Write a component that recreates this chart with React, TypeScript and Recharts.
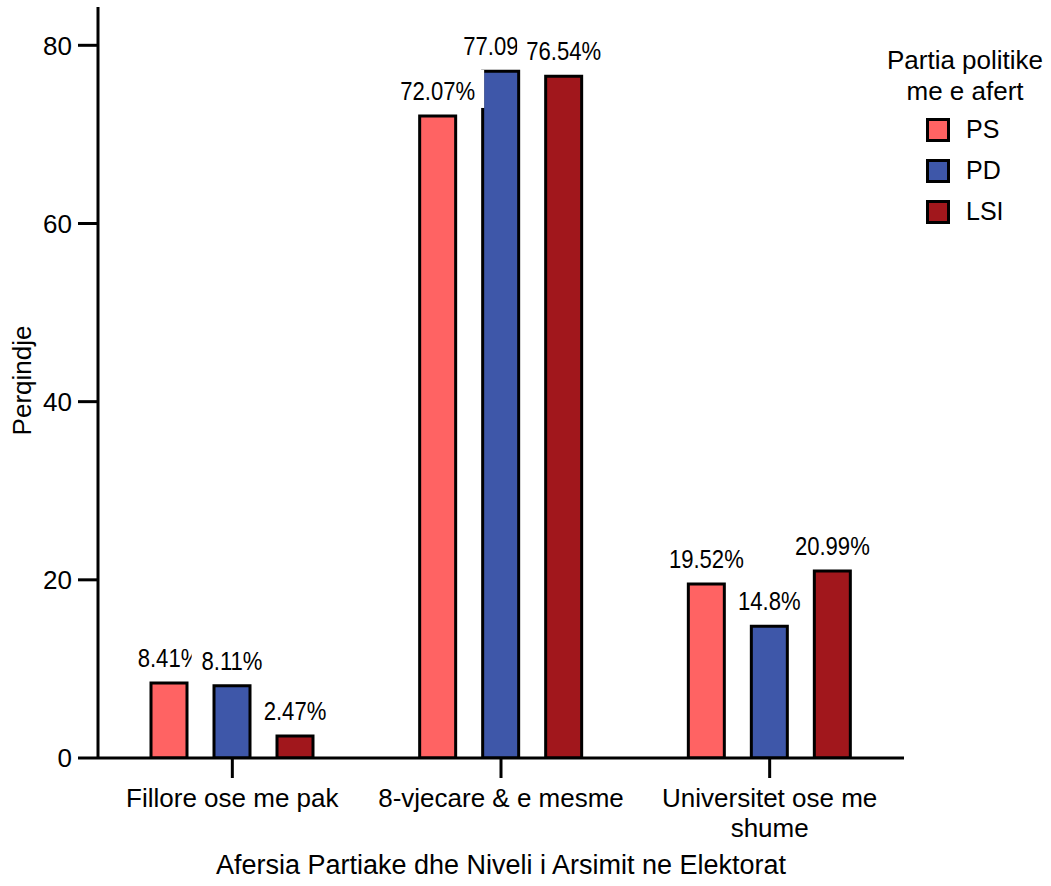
import React from 'react';
import { BarChart, Bar, XAxis, YAxis, LabelList, Legend, Label } from 'recharts';

const categories = ['Fillore ose me pak', '8-vjecare & e mesme', 'Universitet ose me shume'];
const psValues = [8.41, 72.07, 19.52];
const pdValues = [8.11, 77.09, 14.8];
const lsiValues = [2.47, 76.54, 20.99];
const yTicks = [0, 20, 40, 60, 80];
const seriesNames = ['PS', 'PD', 'LSI'];
const seriesColors = ['#FF6363', '#3E57A9', '#A1171C'];
const legendTitle = ['Partia politike', 'me e afert'];
const xTitle = 'Afersia Partiake dhe Niveli i Arsimit ne Elektorat';
const yTitle = 'Perqindje';

const data = categories.map((c, i) => ({ category: c, PS: psValues[i], PD: pdValues[i], LSI: lsiValues[i] }));

const FONT = '"Liberation Sans", Arial, Helvetica, sans-serif';

const charW = (ch: string) => {
  if (ch === '.') return 0.278;
  if (ch === '%') return 0.889;
  return 0.556;
};

const wrapWords = (s: string, maxChars: number) => {
  const words = s.split(' ');
  const lines: string[] = [];
  let cur = '';
  words.forEach((w) => {
    const next = cur ? `${cur} ${w}` : w;
    if (next.length > maxChars && cur) {
      lines.push(cur);
      cur = w;
    } else {
      cur = next;
    }
  });
  if (cur) lines.push(cur);
  return lines;
};

const BarValueLabel = (props: any) => {
  const { x, y, width, value } = props;
  const cx = Number(x) + Number(width) / 2;
  const baseline = Number(y) - 16;
  const text = `${value}%`;
  const fs = 26;
  const sx = 0.85;
  const w = text.split('').reduce((s, c) => s + charW(c), 0) * fs * sx;
  return (
    <g>
      <rect x={cx - w / 2 - 9} y={baseline - 30} width={w + 18} height={38} fill="#ffffff" />
      <text
        x={0}
        y={0}
        transform={`translate(${cx} ${baseline}) scale(${sx} 1)`}
        textAnchor="middle"
        fontSize={fs}
        fontFamily={FONT}
        fill="#000"
      >
        {text}
      </text>
    </g>
  );
};

const CategoryTick = (props: any) => {
  const { x, y, payload } = props;
  const lines = wrapWords(String(payload.value), 20);
  return (
    <text x={x} y={Number(y) + 19} textAnchor="middle" fontSize={26} fontFamily={FONT} fill="#000">
      {lines.map((l, i) => (
        <tspan key={i} x={x} dy={i === 0 ? 0 : 30}>
          {l}
        </tspan>
      ))}
    </text>
  );
};

const LegendContent = () => (
  <div style={{ fontFamily: FONT, color: '#000', width: 210 }}>
    <div style={{ textAlign: 'center', fontSize: 26, lineHeight: '31px' }}>
      {legendTitle.map((t) => (
        <div key={t}>{t}</div>
      ))}
    </div>
    <div style={{ height: 2 }} />
    {seriesNames.map((n, i) => (
      <div key={n} style={{ display: 'flex', alignItems: 'center', height: 41, marginLeft: 66 }}>
        <span
          style={{
            display: 'inline-block',
            width: 18,
            height: 18,
            border: '3px solid #000',
            background: seriesColors[i],
          }}
        />
        <span style={{ marginLeft: 16, fontSize: 25 }}>{n}</span>
      </div>
    ))}
  </div>
);

export default function App() {
  return (
    <div style={{ position: 'absolute', left: 0, top: 0, background: '#fff' }}>
      <BarChart
        width={1051}
        height={886}
        data={data}
        margin={{ top: 7, right: 147, bottom: 0, left: 0 }}
        barGap={27}
      >
        <XAxis
          dataKey="category"
          height={128}
          tickSize={20}
          tickMargin={10}
          axisLine={{ stroke: '#000', strokeWidth: 3 }}
          tickLine={{ stroke: '#000', strokeWidth: 3 }}
          tick={<CategoryTick />}
          interval={0}
        >
          <Label
            content={(p: any) => {
              const vb = p.viewBox;
              return (
                <text
                  x={vb.x + vb.width / 2}
                  y={vb.y + 116}
                  textAnchor="middle"
                  fontSize={27}
                  fontFamily={FONT}
                  fill="#000"
                >
                  {xTitle}
                </text>
              );
            }}
          />
        </XAxis>
        <YAxis
          width={98}
          domain={[0, 84.3]}
          ticks={yTicks}
          tickSize={20}
          tickMargin={6}
          axisLine={{ stroke: '#000', strokeWidth: 3 }}
          tickLine={{ stroke: '#000', strokeWidth: 3 }}
          tick={{ fill: '#000', fontSize: 26, fontFamily: FONT }}
          allowDataOverflow
        >
          <Label
            content={(p: any) => {
              const vb = p.viewBox;
              return (
                <text
                  x={0}
                  y={0}
                  transform={`translate(${vb.x + 31} ${vb.y + vb.height / 2 - 2}) rotate(-90)`}
                  textAnchor="middle"
                  fontSize={26}
                  fontFamily={FONT}
                  fill="#000"
                >
                  {yTitle}
                </text>
              );
            }}
          />
        </YAxis>
        <Legend
          layout="horizontal"
          verticalAlign="middle"
          align="center"
          content={<LegendContent />}
          wrapperStyle={{ left: 860, top: 45, width: 210, height: 200 }}
        />
        {seriesNames.map((n, i) => (
          <Bar
            key={n}
            dataKey={n}
            barSize={36}
            fill={seriesColors[i]}
            stroke="#000"
            strokeWidth={3}
            isAnimationActive={false}
          >
            <LabelList dataKey={n} content={<BarValueLabel />} />
          </Bar>
        ))}
      </BarChart>
    </div>
  );
}
